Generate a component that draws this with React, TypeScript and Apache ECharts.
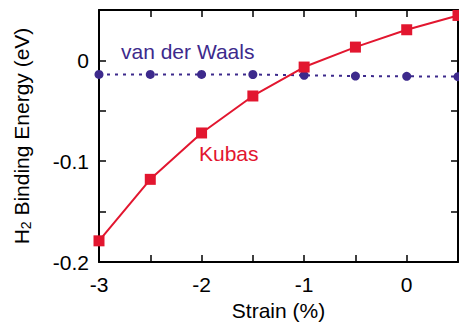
import React, { useEffect, useRef } from "react";
import * as echarts from "echarts";

const strain = [-3, -2.5, -2, -1.5, -1, -0.5, 0, 0.5];
const kubas = [-0.179, -0.118, -0.072, -0.0353, -0.0066, 0.0132, 0.0304, 0.0446];
const vdw = [-0.0139, -0.0139, -0.0139, -0.014, -0.0148, -0.0155, -0.0158, -0.0161];
const xTickLabels = ["-3", "-2", "-1", "0"];
const yTickLabels = ["-0.2", "-0.1", "0"];

const RED = "#e2162f";
const PURPLE = "#3d2a8c";
const FONT = "Liberation Sans, Arial, sans-serif";
const FS = 21;

export default function App() {
  const ref = useRef<HTMLDivElement>(null);
  useEffect(() => {
    const chart = echarts.init(ref.current!, undefined, { renderer: "svg" });
    const axisCommon = {
      axisLine: { show: true, onZero: false, lineStyle: { color: "#000", width: 2 } },
      axisTick: { show: true, inside: true, length: 7, lineStyle: { color: "#000", width: 1.5 } },
      splitLine: { show: false },
    };
    const fmtX = (v: number) => {
      const s = String(Math.round(v * 10) / 10);
      return xTickLabels.includes(s) ? s : "";
    };
    const fmtY = (v: number) => {
      const r = Math.round(v * 100) / 100;
      const s = r === 0 ? "0" : String(r);
      return yTickLabels.includes(s) ? s : "";
    };
    chart.setOption({
      animation: false,
      grid: { left: 99, right: 1, top: 10, bottom: 64, containLabel: false },
      xAxis: [
        {
          type: "value", min: -3, max: 0.5, interval: 0.5, position: "bottom",
          ...axisCommon,
          axisLabel: { show: true, formatter: fmtX, color: "#000", fontSize: FS, fontFamily: FONT, margin: 12, showMaxLabel: false },
          name: "Strain (%)", nameLocation: "middle", nameGap: 38,
          nameTextStyle: { color: "#000", fontSize: FS, fontFamily: FONT },
        },
        {
          type: "value", min: -3, max: 0.5, interval: 0.5, position: "top",
          ...axisCommon, axisLabel: { show: false },
        },
      ],
      yAxis: [
        {
          type: "value", min: -0.2, max: 0.05, interval: 0.05, position: "left",
          ...axisCommon,
          axisLabel: { show: true, formatter: fmtY, color: "#000", fontSize: FS, fontFamily: FONT, margin: 10 },
          name: "{a|H}{s|2}{a| Binding Energy (eV)}", nameLocation: "middle", nameGap: 66, nameRotate: 90,
          nameTextStyle: {
            color: "#000", fontSize: FS, fontFamily: FONT,
            rich: {
              a: { fontSize: FS, fontFamily: FONT, color: "#000" },
              s: { fontSize: 14, fontFamily: FONT, color: "#000", verticalAlign: "bottom", padding: [10, 0, 0, 0] },
            },
          },
        },
        {
          type: "value", min: -0.2, max: 0.05, interval: 0.05, position: "right",
          ...axisCommon, axisLabel: { show: false },
        },
      ],
      graphic: [
        { type: "text", left: 121, top: 41, style: { text: "van der Waals", fill: PURPLE, fontSize: FS, fontFamily: FONT } },
        { type: "text", left: 199, top: 143, style: { text: "Kubas", fill: RED, fontSize: FS, fontFamily: FONT } },
      ],
      series: [
        {
          type: "line", data: strain.map((x, i) => [x, vdw[i]]),
          symbol: "circle", symbolSize: 9, clip: false,
          lineStyle: { color: PURPLE, width: 2, type: [3, 5] },
          itemStyle: { color: PURPLE },
        },
        {
          type: "line", data: strain.map((x, i) => [x, kubas[i]]),
          symbol: "rect", symbolSize: 11, clip: false, smooth: false,
          lineStyle: { color: RED, width: 2 },
          itemStyle: { color: RED },
          z: 3,
        },
      ],
    });
    return () => chart.dispose();
  }, []);
  return <div ref={ref} style={{ width: 459, height: 326, position: "absolute", left: 0, top: 0, background: "#fff" }} />;
}
